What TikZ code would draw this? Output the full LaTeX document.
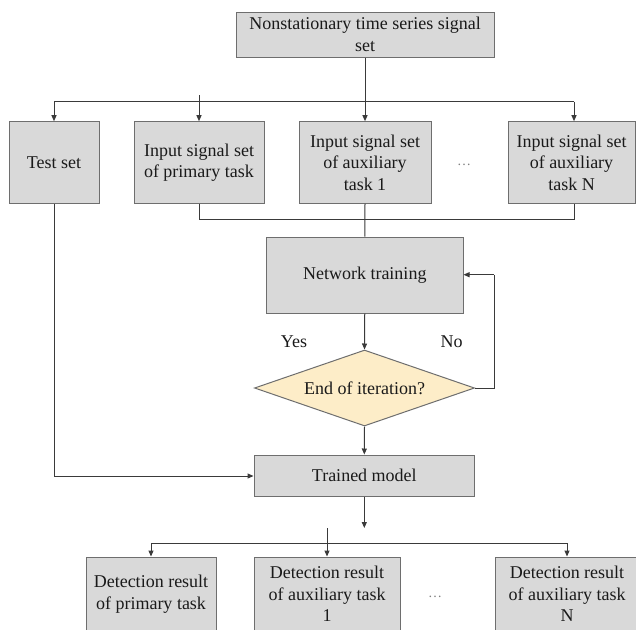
\documentclass[tikz,border=0pt]{standalone}
\usepackage{fontspec}
\setmainfont{Liberation Serif}
\newfontfamily\tnr{Liberation Serif}
\usetikzlibrary{shapes.geometric,arrows.meta}
\definecolor{boxfill}{HTML}{D9D9D9}
\definecolor{boxline}{HTML}{6E6E6E}
\definecolor{diafill}{HTML}{FDEDC8}
\definecolor{conn}{HTML}{3A3A3A}
\definecolor{txt}{HTML}{1A1A1A}
\tikzset{
  x=1pt, y=-1pt,
  box/.style={draw=boxline, line width=1pt, fill=boxfill, rectangle, inner sep=0pt, align=center,
     text=txt, font=\tnr\fontsize{18}{21.5}\selectfont},
  decide/.style={draw=boxline, line width=1pt, fill=diafill, diamond, aspect=2.9, inner sep=0pt,
     minimum width=220pt, minimum height=76pt, text=txt, font=\tnr\fontsize{18}{21.5}\selectfont},
  lbl/.style={inner sep=0pt, text=txt, font=\tnr\fontsize{18}{21.5}\selectfont},
  dotlbl/.style={inner sep=0pt, text=gray, font=\tnr\fontsize{14}{16}\selectfont},
  conn/.style={draw=conn, line width=1pt},
  arr/.style={conn, -{Triangle[length=6pt,width=5pt]}}
}
\begin{document}
\begin{tikzpicture}
\clip (0,0) rectangle (636,629);
\fill[white] (0,0) rectangle (636,629);
% nodes
\node[box, minimum width=258pt, minimum height=45pt] (top) at (365,34.5) {Nonstationary time series signal\\set};
\node[box, minimum width=90pt, minimum height=81.6pt] (test) at (54,162.5) {Test set};
\node[box, minimum width=130pt, minimum height=81.6pt] (prim) at (199,162.5) {Input signal set\\of primary task};
\node[box, minimum width=132pt, minimum height=81.6pt] (aux1) at (365,162.5) {Input signal set\\of auxiliary\\task 1};
\node[box, minimum width=127pt, minimum height=81.6pt] (auxN) at (571.5,162.5) {Input signal set\\of auxiliary\\task N};
\node[dotlbl] (dots1) at (464,165) {\dots};
\node[box, minimum width=196.5pt, minimum height=76pt] (net) at (364.75,275) {Network training};
\node[decide] (dia) at (364.5,388) {End of iteration?};
\node[lbl] (yes) at (294,341.7) {Yes};
\node[lbl] (no) at (451.5,341.7) {No};
\node[box, minimum width=220.6pt, minimum height=41pt] (trained) at (364.3,475.5) {Trained model};
\node[box, minimum width=130pt, minimum height=74pt] (det1) at (151,594) {Detection result\\of primary task};
\node[box, minimum width=146pt, minimum height=74pt] (det2) at (327,594) {Detection result\\of auxiliary task\\1};
\node[box, minimum width=144pt, minimum height=74pt] (det3) at (567,594) {Detection result\\of auxiliary task\\N};
\node[dotlbl] (dots2) at (435,597) {\dots};
% coordinates
\coordinate (hl) at (54,101.7);
\coordinate (hr) at (574,101.7);
\coordinate (pstub) at (199,95);
\coordinate (ml) at (199,219);
\coordinate (mr) at (574,219);
\coordinate (fbr) at (494,388);
\coordinate (fbt) at (494,274.7);
\coordinate (tcorner) at (54,476);
\coordinate (tmend) at (364.3,528);
\coordinate (dstub) at (327,528);
\coordinate (bl) at (151,543.3);
\coordinate (br) at (567,543.3);
% connectors
\draw[arr] (top.south) -- (aux1.north);
\draw[conn] (hl) -- (hr);
\draw[arr] (hl) -- (test.north);
\draw[arr] (pstub) -- (prim.north);
\draw[arr] (hr) -- (hr |- auxN.north);
\draw[conn] (prim.south) -- (ml) -- (mr) -- (mr |- auxN.south);
\draw[conn] (aux1.south) -- (net.north);
\draw[arr] (net.south) -- (dia.north);
\draw[conn] (dia.east) -- (fbr) -- (fbt);
\draw[arr] (fbt) -- (fbt -| net.east);
\draw[arr] (dia.south) -- (trained.north);
\draw[conn] (test.south) -- (tcorner);
\draw[arr] (tcorner) -- (tcorner -| trained.west);
\draw[arr] (trained.south) -- (tmend);
\draw[conn] (bl) -- (br);
\draw[arr] (bl) -- (det1.north);
\draw[arr] (br) -- (br |- det3.north);
\draw[arr] (dstub) -- (det2.north);
\end{tikzpicture}
\end{document}
